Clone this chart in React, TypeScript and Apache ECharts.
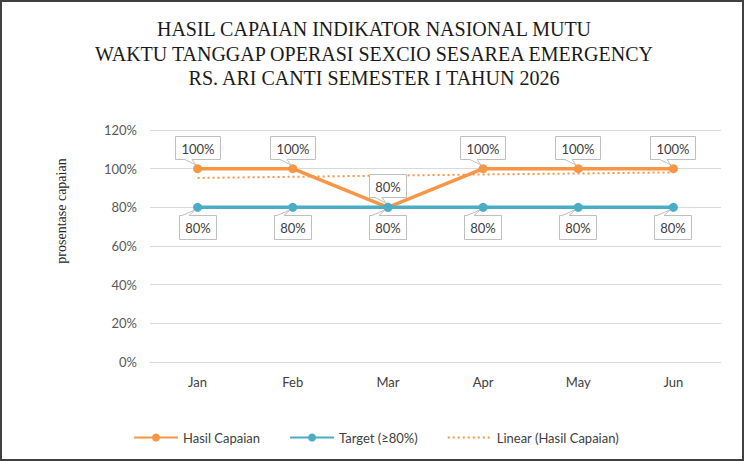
import React, { useEffect, useRef } from "react";
import * as echarts from "echarts";

const categories = ["Jan", "Feb", "Mar", "Apr", "May", "Jun"];
const hasilCapaian = [100, 100, 80, 100, 100, 100];
const target = [80, 80, 80, 80, 80, 80];
const linearTrend = [95.2, 95.8, 96.4, 97.0, 97.5, 98.1];
const titleLines = [
  "HASIL CAPAIAN INDIKATOR NASIONAL MUTU",
  "WAKTU TANGGAP OPERASI SEXCIO SESAREA EMERGENCY",
  "RS. ARI CANTI SEMESTER I TAHUN 2026",
];
const yAxisName = "prosentase capaian";
const seriesNames = ["Hasil Capaian", "Target (\u226580%)", "Linear (Hasil Capaian)"];

const ORANGE = "#F79646";
const TEAL = "#4BACC6";
const SANS = "Lato, 'Open Sans', sans-serif";
const SERIF = "'Liberation Serif', 'DejaVu Serif', serif";
const LABEL_FONT = `13px ${SANS}`;

let measureCtx: CanvasRenderingContext2D | null = null;
function textWidth(t: string): number {
  if (!measureCtx) measureCtx = document.createElement("canvas").getContext("2d");
  if (!measureCtx) return t.length * 8;
  measureCtx.font = LABEL_FONT;
  return measureCtx.measureText(t).width;
}

function calloutRenderer(above: boolean) {
  return (params: any, api: any) => {
    const idx = api.value(0);
    const val = api.value(1);
    const p = api.coord([idx, val]);
    const px = Math.round(p[0]);
    const py = Math.round(p[1]);
    const text = `${val}%`;
    const w = Math.round(textWidth(text) + 12);
    const h = 23;
    const L = px - Math.round(w / 2) + 0.5;
    const R = L + w;
    let pts: number[][];
    let ty: number;
    if (above) {
      const B = py - 10 + 0.5;
      const T = B - h;
      pts = [
        [L, T], [R, T], [R, B], [px - 6, B], [px - 2, py - 4], [px - 13, B], [L, B],
      ];
      ty = (T + B) / 2;
    } else {
      const T = py + 8 + 0.5;
      const B = T + h + 1;
      pts = [
        [L, T], [px - 16, T], [px - 3, py + 3], [px - 9, T], [R, T], [R, B], [L, B],
      ];
      ty = (T + B) / 2;
    }
    return {
      type: "group",
      children: [
        {
          type: "polygon",
          shape: { points: pts },
          style: { fill: "#ffffff", stroke: "#BFBFBF", lineWidth: 1 },
        },
        {
          type: "text",
          x: px,
          y: ty + 0.5,
          style: {
            text,
            font: LABEL_FONT,
            fill: "#404040",
            textAlign: "center",
            textVerticalAlign: "middle",
          },
        },
      ],
    };
  };
}

export default function App() {
  const ref = useRef<HTMLDivElement>(null);
  useEffect(() => {
    if (!ref.current) return;
    const chart = echarts.init(ref.current, null, { renderer: "svg" });
    const titleY = [29.2, 53.7, 78.3];
    chart.setOption({
      animation: false,
      backgroundColor: "#ffffff",
      graphic: [
        {
          type: "rect",
          shape: { x: 1, y: 1, width: 742, height: 459 },
          style: { fill: "none", stroke: "#404040", lineWidth: 2 },
          z: 100,
        },
        ...titleLines.map((t, i) => ({
          type: "text",
          x: 374,
          y: titleY[i],
          style: {
            text: t,
            font: `20px ${SERIF}`,
            fill: "#1a1a1a",
            textAlign: "center",
            textVerticalAlign: "middle",
          },
        })),
        {
          type: "text",
          x: 61,
          y: 211,
          rotation: Math.PI / 2,
          style: {
            text: yAxisName,
            font: `14px ${SERIF}`,
            fill: "#262626",
            textAlign: "center",
            textVerticalAlign: "middle",
          },
        },
      ],
      grid: { left: 150, right: 27, top: 130, bottom: 101, containLabel: false },
      legend: {
        left: 128,
        top: 426,
        itemWidth: 44,
        itemHeight: 10,
        itemGap: 29,
        textStyle: { fontFamily: SANS, fontSize: 13, color: "#404040" },
        data: [
          { name: seriesNames[0] },
          { name: seriesNames[1] },
          { name: seriesNames[2], itemStyle: { opacity: 0 } },
        ],
      },
      xAxis: {
        type: "category",
        data: categories,
        boundaryGap: true,
        axisLine: { lineStyle: { color: "#D9D9D9", width: 1 } },
        axisTick: { show: false },
        axisLabel: { fontFamily: SANS, fontSize: 13, color: "#404040", margin: 13 },
      },
      yAxis: {
        type: "value",
        min: 0,
        max: 120,
        interval: 20,
        axisLine: { show: false },
        axisTick: { show: false },
        splitLine: { lineStyle: { color: "#D9D9D9", width: 1 } },
        axisLabel: {
          formatter: "{value}%",
          fontFamily: SANS,
          fontSize: 13,
          color: "#595959",
          margin: 13,
        },
      },
      series: [
        {
          name: seriesNames[2],
          type: "line",
          data: linearTrend,
          symbol: "none",
          lineStyle: { color: ORANGE, width: 2, type: [2, 3] },
          itemStyle: { color: ORANGE },
          z: 1,
        },
        {
          name: seriesNames[0],
          type: "line",
          data: hasilCapaian,
          symbol: "circle",
          symbolSize: 9,
          lineStyle: { color: ORANGE, width: 3.5 },
          itemStyle: { color: ORANGE },
          z: 2,
        },
        {
          name: seriesNames[1],
          type: "line",
          data: target,
          symbol: "circle",
          symbolSize: 9,
          lineStyle: { color: TEAL, width: 3.5 },
          itemStyle: { color: TEAL },
          z: 3,
        },
        {
          name: "hasil-labels",
          type: "custom",
          data: hasilCapaian.map((v, i) => [i, v]),
          renderItem: calloutRenderer(true),
          silent: true,
          z: 5,
        },
        {
          name: "target-labels",
          type: "custom",
          data: target.map((v, i) => [i, v]),
          renderItem: calloutRenderer(false),
          silent: true,
          z: 5,
        },
      ],
    });
    return () => chart.dispose();
  }, []);
  return (
    <div
      ref={ref}
      style={{ position: "absolute", left: 0, top: 0, width: 748, height: 463, background: "#fff" }}
    />
  );
}
